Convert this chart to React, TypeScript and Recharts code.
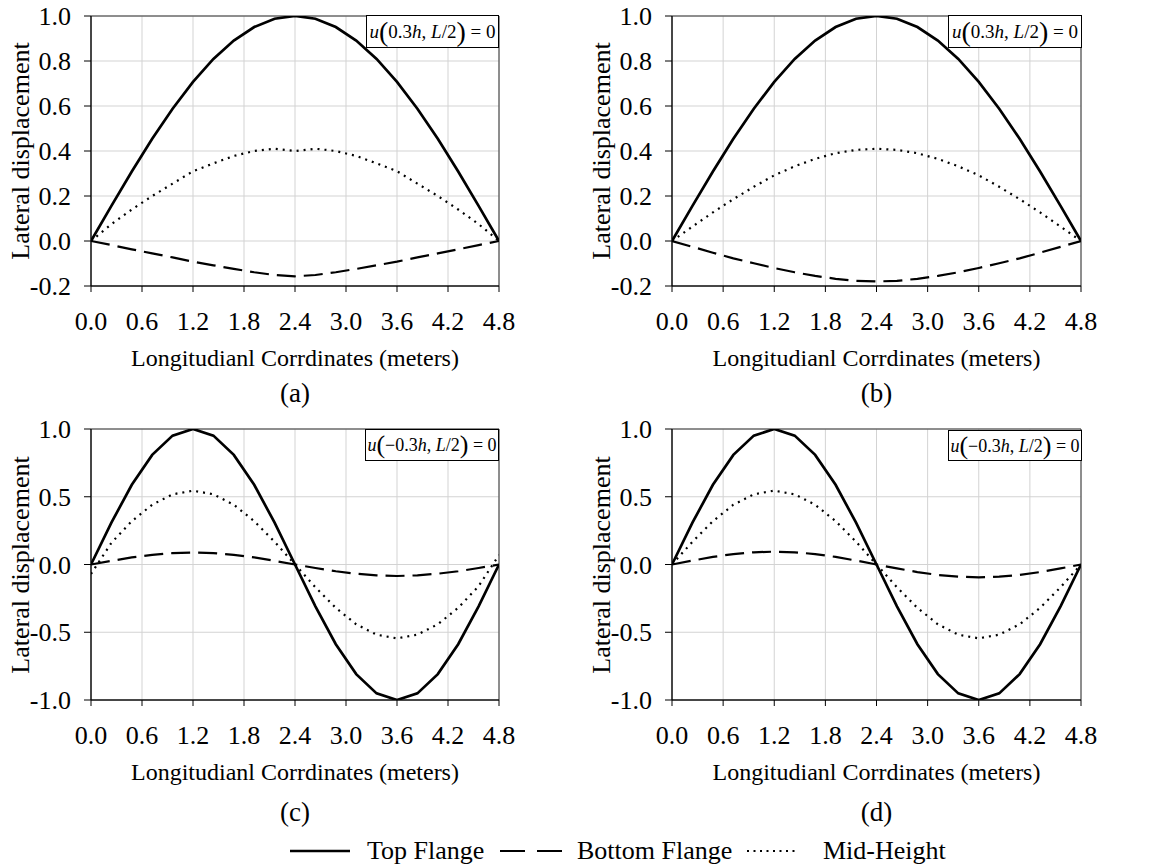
import React from 'react';
import { LineChart, Line, XAxis, YAxis, CartesianGrid, ReferenceArea } from 'recharts';

const FONT = '"Liberation Serif", "Times New Roman", Times, serif';

// Sampling positions along the member (meters)
const xCoords = [0, 0.24, 0.48, 0.72, 0.96, 1.2, 1.44, 1.68, 1.92, 2.16, 2.4, 2.64, 2.88, 3.12, 3.36, 3.6, 3.84, 4.08, 4.32, 4.56, 4.8];
const xTicks = [0, 0.6, 1.2, 1.8, 2.4, 3.0, 3.6, 4.2, 4.8];
const yTicksUpper = [-0.2, 0, 0.2, 0.4, 0.6, 0.8, 1.0];
const yTicksLower = [-1.0, -0.5, 0, 0.5, 1.0];

// Panels (a) and (b): single half-wave
const topFlangeAB = [0, 0.156, 0.309, 0.454, 0.588, 0.707, 0.809, 0.891, 0.951, 0.988, 1.0, 0.988, 0.951, 0.891, 0.809, 0.707, 0.588, 0.454, 0.309, 0.156, 0];
const bottomFlangeA = [0, -0.018, -0.037, -0.055, -0.073, -0.092, -0.108, -0.124, -0.139, -0.151, -0.157, -0.151, -0.139, -0.124, -0.108, -0.092, -0.073, -0.055, -0.037, -0.018, 0];
const midHeightA = [0, 0.075, 0.14, 0.2, 0.255, 0.31, 0.345, 0.378, 0.4, 0.41, 0.4, 0.41, 0.4, 0.378, 0.345, 0.31, 0.255, 0.2, 0.14, 0.075, 0];
const bottomFlangeB = [0, -0.026, -0.052, -0.077, -0.099, -0.12, -0.139, -0.155, -0.168, -0.177, -0.18, -0.177, -0.168, -0.155, -0.139, -0.12, -0.099, -0.077, -0.052, -0.026, 0];
const midHeightB = [0, 0.064, 0.127, 0.186, 0.241, 0.292, 0.332, 0.365, 0.39, 0.405, 0.41, 0.405, 0.39, 0.365, 0.332, 0.292, 0.241, 0.186, 0.127, 0.064, 0];

// Panels (c) and (d): full wave
const topFlangeCD = [0, 0.309, 0.588, 0.809, 0.951, 1.0, 0.951, 0.809, 0.588, 0.309, 0, -0.309, -0.588, -0.809, -0.951, -1.0, -0.951, -0.809, -0.588, -0.309, 0];
const bottomFlangeC = [0, 0.027, 0.052, 0.071, 0.084, 0.088, 0.084, 0.071, 0.052, 0.027, 0, -0.026, -0.05, -0.068, -0.08, -0.085, -0.08, -0.068, -0.05, -0.026, 0];
const midHeightC = [-0.07, 0.16, 0.32, 0.441, 0.518, 0.545, 0.518, 0.441, 0.32, 0.168, 0, -0.168, -0.32, -0.441, -0.518, -0.545, -0.518, -0.441, -0.32, -0.16, 0.07];
const bottomFlangeD = [0, 0.029, 0.056, 0.077, 0.09, 0.095, 0.09, 0.077, 0.056, 0.029, 0, -0.029, -0.056, -0.077, -0.09, -0.095, -0.09, -0.077, -0.056, -0.029, 0];
const midHeightD = [0, 0.168, 0.32, 0.441, 0.518, 0.545, 0.518, 0.441, 0.32, 0.168, 0, -0.168, -0.32, -0.441, -0.518, -0.545, -0.518, -0.441, -0.32, -0.168, 0];

const buildRows = (top: number[], bottom: number[], mid: number[]) =>
  xCoords.map((x, i) => ({ x, top: top[i], bottom: bottom[i], mid: mid[i] }));

const fmt = (v: number) => v.toFixed(1);

type Rect = { x0: number; y0: number; x1: number; y1: number };

type PanelProps = {
  left: number;
  top: number;
  width: number;
  height: number;
  plot: Rect;
  data: any[];
  yDomain: [number, number];
  yTicks: number[];
  letter: string;
  letterY: number;
  negative: boolean;
  box: Rect;
};

const Y_AXIS_W = 60;
const X_AXIS_H = 40;

function Condition({ negative, box }: { negative: boolean; box: Rect }) {
  const fs = negative ? 18 : 19;
  const paren = { fontSize: negative ? 26 : 28, fontStyle: 'normal' as const, lineHeight: 1 };
  return (
    <div
      style={{
        position: 'absolute',
        left: box.x0,
        top: box.y0,
        width: box.x1 - box.x0,
        height: box.y1 - box.y0,
        border: '1px solid #000',
        background: '#fff',
        boxSizing: 'border-box',
        display: 'flex',
        alignItems: 'center',
        justifyContent: 'center',
        fontFamily: FONT,
        fontSize: fs,
        whiteSpace: 'nowrap',
        lineHeight: 1,
      }}
    >
      <i>u</i>
      <span style={paren}>(</span>
      <span>{negative ? '\u22120.3' : '0.3'}</span>
      <i>h</i>
      <span>,&nbsp;</span>
      <i>L</i>
      <span>/2</span>
      <span style={paren}>)</span>
      <span>&nbsp;=&nbsp;0</span>
    </div>
  );
}

function Panel(p: PanelProps) {
  const margin = {
    left: p.plot.x0 - p.left - Y_AXIS_W,
    right: p.left + p.width - p.plot.x1,
    top: p.plot.y0 - p.top,
    bottom: p.top + p.height - p.plot.y1 - X_AXIS_H,
  };
  const cx = (p.plot.x0 + p.plot.x1) / 2;
  const cy = (p.plot.y0 + p.plot.y1) / 2;
  const tickStyle = { fill: '#000', fontSize: 26, fontFamily: FONT };
  return (
    <>
      <div style={{ position: 'absolute', left: p.left, top: p.top }}>
        <LineChart width={p.width} height={p.height} data={p.data} margin={margin}>
          <CartesianGrid stroke="#d3d3d3" strokeWidth={1} />
          <ReferenceArea
            x1={0}
            x2={4.8}
            y1={p.yDomain[0]}
            y2={p.yDomain[1]}
            fill="none"
            stroke="#333"
            strokeWidth={1}
            ifOverflow="visible"
          />
          <XAxis
            dataKey="x"
            type="number"
            domain={[0, 4.8]}
            ticks={xTicks}
            interval={0}
            tickFormatter={fmt}
            height={X_AXIS_H}
            tickSize={6}
            tickMargin={20}
            stroke="#000"
            tick={tickStyle}
            allowDataOverflow
          />
          <YAxis
            type="number"
            domain={p.yDomain}
            ticks={p.yTicks}
            interval={0}
            tickFormatter={fmt}
            width={Y_AXIS_W}
            tickSize={7}
            tickMargin={13}
            stroke="#000"
            tick={tickStyle}
            allowDataOverflow
          />
          <Line type="linear" dataKey="mid" stroke="#000" strokeWidth={2.2} strokeDasharray="2 5" dot={false} activeDot={false} isAnimationActive={false} />
          <Line type="linear" dataKey="bottom" stroke="#000" strokeWidth={2.2} strokeDasharray="19 8" dot={false} activeDot={false} isAnimationActive={false} />
          <Line type="linear" dataKey="top" stroke="#000" strokeWidth={2.7} dot={false} activeDot={false} isAnimationActive={false} />
        </LineChart>
      </div>
      <div
        style={{
          position: 'absolute',
          left: p.plot.x0 - 70,
          top: cy,
          transform: 'translate(-50%, -50%) rotate(-90deg)',
          fontFamily: FONT,
          fontSize: 26,
          lineHeight: 1,
          whiteSpace: 'nowrap',
        }}
      >
        Lateral displacement
      </div>
      <div
        style={{
          position: 'absolute',
          left: cx,
          top: p.plot.y1 + 72,
          transform: 'translate(-50%, -50%)',
          fontFamily: FONT,
          fontSize: 24,
          lineHeight: 1,
          whiteSpace: 'nowrap',
        }}
      >
        Longitudianl Corrdinates (meters)
      </div>
      <div
        style={{
          position: 'absolute',
          left: cx,
          top: p.letterY,
          transform: 'translate(-50%, -50%)',
          fontFamily: FONT,
          fontSize: 27,
          lineHeight: 1,
          whiteSpace: 'nowrap',
        }}
      >
        {p.letter}
      </div>
      <Condition negative={p.negative} box={p.box} />
    </>
  );
}

const LEGEND_Y = 851;

function LegendText({ x, children }: { x: number; children: React.ReactNode }) {
  return (
    <div
      style={{
        position: 'absolute',
        left: x,
        top: LEGEND_Y,
        transform: 'translateY(-50%)',
        fontFamily: FONT,
        fontSize: 26,
        lineHeight: 1,
        whiteSpace: 'nowrap',
      }}
    >
      {children}
    </div>
  );
}

function LegendSample({ x, w, dash, sw }: { x: number; w: number; dash?: string; sw: number }) {
  return (
    <svg style={{ position: 'absolute', left: x, top: LEGEND_Y - 6 }} width={w} height={12}>
      <line x1={0} y1={6} x2={w} y2={6} stroke="#000" strokeWidth={sw} strokeDasharray={dash} />
    </svg>
  );
}

export default function App() {
  const upperPlotA: Rect = { x0: 91, y0: 16, x1: 499, y1: 286 };
  const upperPlotB: Rect = { x0: 672, y0: 16, x1: 1081, y1: 286 };
  const lowerPlotC: Rect = { x0: 91, y0: 429, x1: 499, y1: 700 };
  const lowerPlotD: Rect = { x0: 672, y0: 429, x1: 1081, y1: 700 };
  return (
    <div style={{ position: 'absolute', left: 0, top: 0, width: 1158, height: 868, background: '#fff', overflow: 'hidden' }}>
      <Panel
        left={0}
        top={0}
        width={580}
        height={410}
        plot={upperPlotA}
        data={buildRows(topFlangeAB, bottomFlangeA, midHeightA)}
        yDomain={[-0.2, 1.0]}
        yTicks={yTicksUpper}
        letter="(a)"
        letterY={393}
        negative={false}
        box={{ x0: 366, y0: 15, x1: 499, y1: 48 }}
      />
      <Panel
        left={580}
        top={0}
        width={578}
        height={410}
        plot={upperPlotB}
        data={buildRows(topFlangeAB, bottomFlangeB, midHeightB)}
        yDomain={[-0.2, 1.0]}
        yTicks={yTicksUpper}
        letter="(b)"
        letterY={393}
        negative={false}
        box={{ x0: 948, y0: 15, x1: 1082, y1: 48 }}
      />
      <Panel
        left={0}
        top={410}
        width={580}
        height={420}
        plot={lowerPlotC}
        data={buildRows(topFlangeCD, bottomFlangeC, midHeightC)}
        yDomain={[-1.0, 1.0]}
        yTicks={yTicksLower}
        letter="(c)"
        letterY={812}
        negative={true}
        box={{ x0: 365, y0: 429, x1: 499, y1: 461 }}
      />
      <Panel
        left={580}
        top={410}
        width={578}
        height={420}
        plot={lowerPlotD}
        data={buildRows(topFlangeCD, bottomFlangeD, midHeightD)}
        yDomain={[-1.0, 1.0]}
        yTicks={yTicksLower}
        letter="(d)"
        letterY={812}
        negative={true}
        box={{ x0: 948, y0: 430, x1: 1082, y1: 461 }}
      />
      <LegendSample x={290} w={60} sw={2.7} />
      <LegendText x={367}>Top Flange</LegendText>
      <LegendSample x={500} w={62} dash="25 12" sw={2} />
      <LegendText x={577}>Bottom Flange</LegendText>
      <LegendSample x={747} w={50} dash="2 4.5" sw={2} />
      <LegendText x={823}>Mid-Height</LegendText>
    </div>
  );
}
